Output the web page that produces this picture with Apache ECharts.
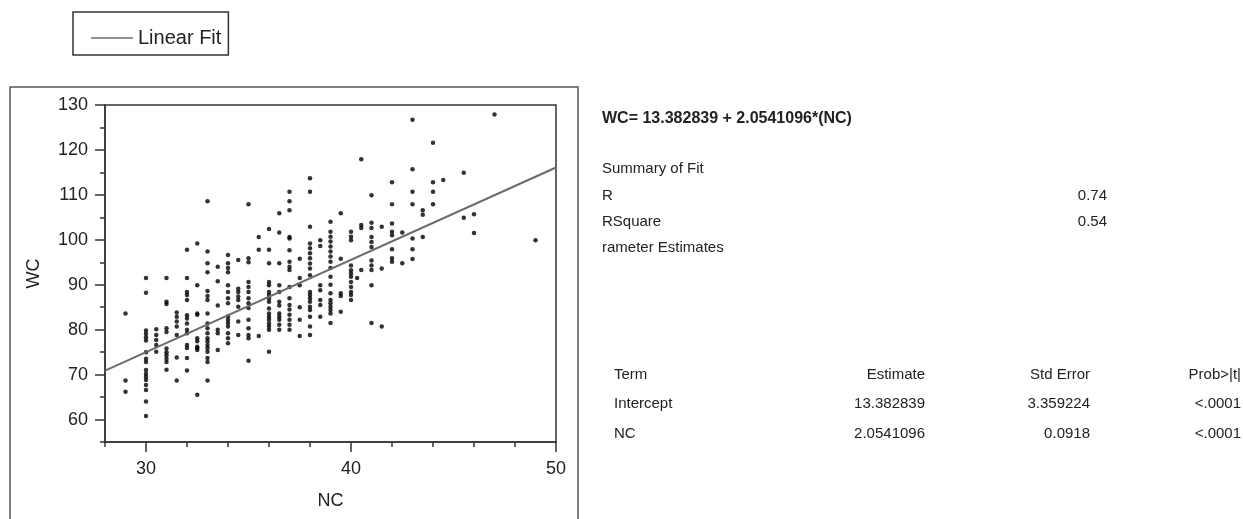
<!DOCTYPE html>
<html>
<head>
<meta charset="utf-8">
<script src="https://cdn.jsdelivr.net/npm/echarts@6/dist/echarts.min.js"></script>
<style>
html,body{margin:0;padding:0;background:#fff;}
#chart{width:1243px;height:519px;}
</style>
</head>
<body>
<div id="chart"></div>
<script>
// ---- data ----
const columnNC = [29, 30, 30.5, 31, 31.5, 32, 32.5, 33, 33.5, 34, 34.5, 35, 35.5, 36, 36.5, 37, 37.5, 38, 38.5, 39, 39.5, 40, 40.3, 40.5, 41, 41.5, 42, 42.5, 43, 43.5, 44, 44.5, 45.5, 46, 47, 49];
const columnWC = [
  [83.6, 68.7, 66.2],
  [91.5, 88.2, 79.8, 79.1, 78.3, 77.6, 75, 73.5, 72.8, 71, 70.2, 69.5, 68.8, 67.7, 66.6, 64, 60.8],
  [80.1, 78.8, 77.7, 76.6, 75.1],
  [91.5, 86.2, 85.7, 80.3, 79.5, 75.8, 75, 74.3, 73.5, 72.8, 71.1],
  [83.8, 82.9, 81.8, 80.7, 78.8, 73.8, 68.7],
  [97.8, 91.5, 88.4, 87.7, 86.6, 83.2, 82.5, 81.4, 80, 79.2, 76.6, 75.9, 73.7, 70.9],
  [99.2, 89.9, 83.6, 83.3, 78.1, 77.4, 76.2, 75.9, 75.5, 65.5],
  [108.6, 97.4, 94.8, 92.8, 88.6, 87.5, 86.6, 83.6, 81.4, 80.3, 79.2, 78.1, 77.4, 76.6, 75.9, 75.1, 73.7, 72.8, 68.7],
  [94, 90.8, 85.4, 80, 79.2, 75.5],
  [96.6, 94.8, 93.7, 92.8, 89.9, 88.4, 87, 85.9, 83, 82.2, 81.5, 80.7, 79.2, 78.1, 77],
  [95.5, 89.1, 88.4, 87.4, 86.6, 85.1, 81.8, 78.8],
  [107.9, 95.9, 95, 90.6, 89.5, 88.4, 87, 85.9, 84.8, 82.2, 80.3, 78.8, 78.1, 73.1],
  [100.6, 97.8, 78.6],
  [102.4, 97.8, 94.8, 90.6, 89.9, 88.4, 87.7, 87, 86.2, 84.7, 83.6, 82.9, 82.2, 81.4, 80.7, 80, 75.1],
  [105.9, 101.6, 94.8, 89.9, 88.4, 86.2, 85.4, 83.6, 82.9, 82.2, 81.1, 80],
  [110.7, 108.6, 106.6, 100.6, 100.3, 97.7, 95.1, 94, 93.3, 89.5, 87, 85.5, 84.5, 83.3, 82.2, 81.1, 80],
  [95.8, 91.5, 89.9, 85, 82.2, 78.6],
  [113.7, 110.7, 102.9, 99.2, 98.1, 97, 95.9, 94.7, 93.6, 92.1, 88.4, 87.7, 87, 86.2, 85.1, 84.4, 82.9, 80.7, 78.8],
  [99.9, 98.6, 89.9, 88.8, 86.6, 85.5, 82.9],
  [104, 101.8, 100.7, 99.6, 98.5, 97.4, 96.3, 95.1, 93.7, 91.8, 90, 88.1, 86.6, 85.9, 85.1, 84.4, 83.6, 81.5],
  [105.9, 95.8, 88.1, 87.5, 84],
  [101.8, 100.7, 99.9, 94.3, 93.2, 92.5, 91.8, 90.6, 89.5, 88.4, 87.7, 86.6],
  [91.5],
  [117.9, 103.3, 102.6, 93.3],
  [109.9, 103.8, 102.6, 100.6, 99.5, 98.4, 95.4, 94.3, 93.3, 89.9, 81.5],
  [102.9, 93.6, 80.7],
  [112.8, 107.9, 103.6, 101.8, 101, 97.9, 95.9, 95.1],
  [101.6, 94.8],
  [126.7, 115.7, 110.7, 107.9, 100.3, 97.9, 95.7],
  [106.6, 105.6, 100.6],
  [121.6, 112.8, 110.7, 107.9],
  [113.3],
  [114.9, 104.9],
  [105.7, 101.5],
  [127.9],
  [99.9]
];
const fitIntercept = 13.382839;
const fitSlope = 2.0541096;
const fitRange = [28, 50];

const xTickValues = [28, 30, 32, 34, 36, 38, 40, 42, 44, 46, 48, 50];
const xLabelValues = [30, 40, 50];
const yTickValues = [55, 60, 65, 70, 75, 80, 85, 90, 95, 100, 105, 110, 115, 120, 125, 130];
const yLabelValues = [60, 70, 80, 90, 100, 110, 120, 130];

const equationText = 'WC= 13.382839 + 2.0541096*(NC)';
const summaryTitle = 'Summary of Fit';
const statLabels = ['R', 'RSquare'];
const statValues = ['0.74', '0.54'];
const estimatesTitle = 'rameter Estimates';
const tableHeaders = ['Term', 'Estimate', 'Std Error', 'Prob>|t|'];
const tableRows = [
  ['Intercept', '13.382839', '3.359224', '<.0001'],
  ['NC', '2.0541096', '0.0918', '<.0001']
];

// ---- build ----
const points = [];
columnNC.forEach((nc, i) => columnWC[i].forEach(wc => points.push([nc, wc])));
const fitLine = fitRange.map(x => [x, fitIntercept + fitSlope * x]);

const FONT = "'Liberation Sans', Arial, sans-serif";
const TXT = '#222';

const graphics = [
  { type: 'rect', shape: { x: 10, y: 87, width: 568, height: 460 },
    style: { fill: 'none', stroke: '#555', lineWidth: 1.5 }, silent: true },
  { type: 'text', style: { text: equationText, x: 602, y: 119, fill: TXT,
    font: "bold 16px " + FONT, textVerticalAlign: 'middle' } },
  { type: 'text', style: { text: summaryTitle, x: 602, y: 169, fill: TXT,
    font: "15px " + FONT, textVerticalAlign: 'middle' } },
  { type: 'text', style: { text: estimatesTitle, x: 602, y: 248, fill: TXT,
    font: "15px " + FONT, textVerticalAlign: 'middle' } }
];
const statY = [196, 222];
statLabels.forEach((t, i) => {
  graphics.push({ type: 'text', style: { text: t, x: 602, y: statY[i], fill: TXT, font: "15px " + FONT, textVerticalAlign: 'middle' } });
  graphics.push({ type: 'text', style: { text: statValues[i], x: 1107, y: statY[i], fill: TXT, font: "15px " + FONT, textAlign: 'right', textVerticalAlign: 'middle' } });
});
const colX = [614, 925, 1090, 1241];
const colAlign = ['left', 'right', 'right', 'right'];
const rowY = [375, 404, 434];
[tableHeaders].concat(tableRows).forEach((row, r) => {
  row.forEach((cell, c) => {
    graphics.push({ type: 'text', style: { text: cell, x: colX[c], y: rowY[r], fill: TXT,
      font: "15px " + FONT, textAlign: colAlign[c], textVerticalAlign: 'middle' } });
  });
});

const axisCommon = { type: 'value', splitLine: { show: false } };
const lineStyle = { color: '#333', width: 1.5 };

const option = {
  animation: false,
  backgroundColor: '#fff',
  textStyle: { fontFamily: FONT },
  grid: { left: 105, top: 105, width: 451, height: 337, show: true, borderColor: '#333', borderWidth: 1.5, backgroundColor: 'transparent' },
  legend: {
    left: 73, top: 12, orient: 'horizontal',
    data: [{ name: 'Linear Fit', icon: 'rect' }],
    itemWidth: 42, itemHeight: 1.5,
    borderColor: '#333', borderWidth: 1.5, borderRadius: 0,
    padding: [16, 7, 7, 18],
    textStyle: { fontSize: 20, color: TXT, fontFamily: FONT }
  },
  xAxis: [
    Object.assign({}, axisCommon, { min: 28, max: 50, position: 'bottom',
      axisLine: { onZero: false, lineStyle },
      axisTick: { customValues: xTickValues, length: 5, lineStyle },
      axisLabel: { show: false } }),
    Object.assign({}, axisCommon, { min: 28, max: 50, position: 'bottom',
      axisLine: { show: false, onZero: false },
      axisTick: { customValues: xLabelValues, length: 10, lineStyle },
      axisLabel: { customValues: xLabelValues, fontSize: 18, color: TXT, margin: 18 },
      name: 'NC', nameLocation: 'middle', nameGap: 50,
      nameTextStyle: { fontSize: 18, color: TXT } })
  ],
  yAxis: [
    Object.assign({}, axisCommon, { min: 55, max: 130, position: 'left',
      axisLine: { onZero: false, lineStyle },
      axisTick: { customValues: yTickValues, length: 5, lineStyle },
      axisLabel: { show: false } }),
    Object.assign({}, axisCommon, { min: 55, max: 130, position: 'left',
      axisLine: { show: false, onZero: false },
      axisTick: { customValues: yLabelValues, length: 10, lineStyle },
      axisLabel: { customValues: yLabelValues, fontSize: 18, color: TXT, margin: 17 },
      name: 'WC', nameLocation: 'middle', nameGap: 62, nameRotate: 90,
      nameTextStyle: { fontSize: 18, color: TXT } })
  ],
  series: [
    { type: 'scatter', name: 'data', xAxisIndex: 0, yAxisIndex: 0, data: points,
      symbol: 'circle', symbolSize: 4.5, itemStyle: { color: '#000' }, silent: true },
    { type: 'line', name: 'Linear Fit', xAxisIndex: 0, yAxisIndex: 0, data: fitLine,
      symbol: 'none', lineStyle: { color: '#6b6b6b', width: 2 }, itemStyle: { color: '#6b6b6b' }, silent: true }
  ],
  graphic: graphics
};
echarts.init(document.getElementById('chart'), null, { renderer: 'canvas' }).setOption(option);
</script>
</body>
</html>
